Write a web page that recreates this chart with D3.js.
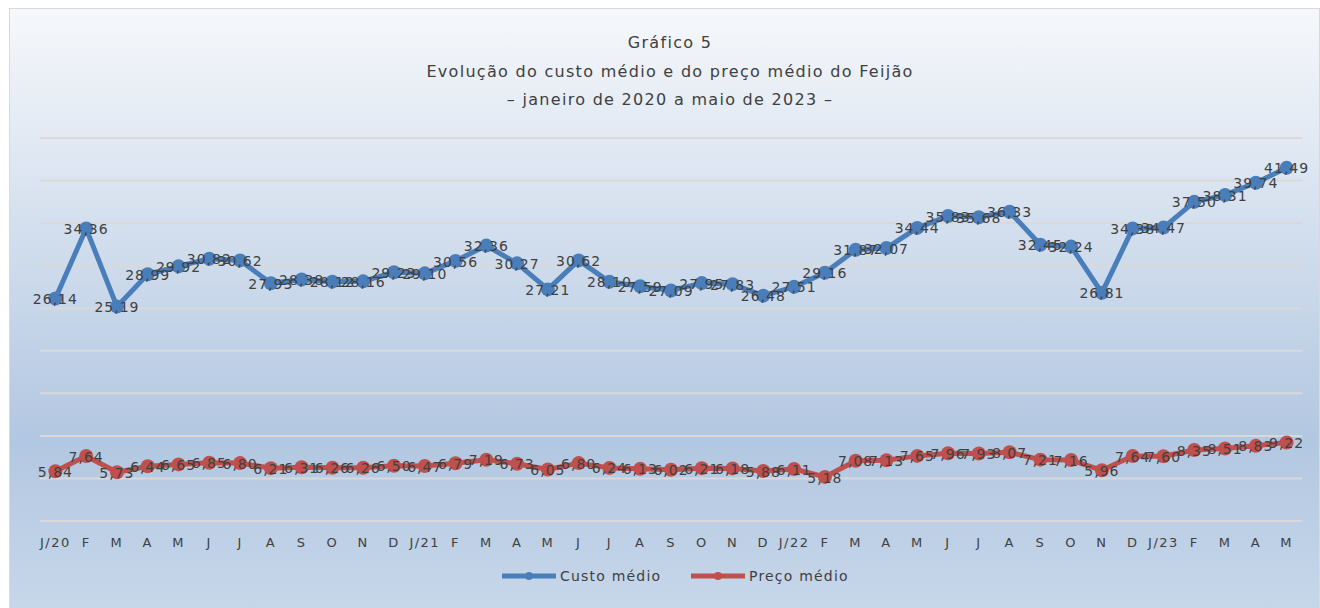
<!DOCTYPE html>
<html>
<head>
<meta charset="utf-8">
<script src="https://cdn.jsdelivr.net/npm/d3@7"></script>
<style>
  body { margin: 0; background: #fff; }
  svg { display: block; font-family: "DejaVu Sans", Verdana, sans-serif; }
</style>
</head>
<body>
<script>
// Month labels, Jan 2020 .. May 2023
const months = ["J/20","F","M","A","M","J","J","A","S","O","N","D",
  "J/21","F","M","A","M","J","J","A","S","O","N","D",
  "J/22","F","M","A","M","J","J","A","S","O","N","D",
  "J/23","F","M","A","M"];

const custoMedio = [26.14, 34.36, 25.19, 28.99, 29.92, 30.82, 30.62, 27.93, 28.38, 28.12, 28.16, 29.23,
  29.10, 30.56, 32.36, 30.27, 27.21, 30.62, 28.10, 27.59, 27.09, 27.95, 27.83, 26.48,
  27.51, 29.16, 31.87, 32.07, 34.44, 35.83, 35.68, 36.33, 32.45, 32.24, 26.81, 34.38,
  34.47, 37.50, 38.31, 39.74, 41.49];

const precoMedio = [5.84, 7.64, 5.73, 6.44, 6.65, 6.85, 6.80, 6.21, 6.31, 6.26, 6.26, 6.50,
  6.47, 6.79, 7.19, 6.73, 6.05, 6.80, 6.24, 6.13, 6.02, 6.21, 6.18, 5.88,
  6.11, 5.18, 7.08, 7.13, 7.65, 7.96, 7.93, 8.07, 7.21, 7.16, 5.96, 7.64,
  7.60, 8.35, 8.51, 8.83, 9.22];

const yTicks = [0, 5, 10, 15, 20, 25, 30, 35, 40, 45];

const series = [
  { name: "Custo  médio", values: custoMedio, color: "#4a7ebb" },
  { name: "Preço médio", values: precoMedio, color: "#c0504d" }
];

const width = 1320;
const height = 608;
const marginLeft = 40;
const marginRight = 18;
const marginTop = 138;
const marginBottom = 87;

const svg = d3.select("body").append("svg")
    .attr("width", width)
    .attr("height", height);

// background gradient like the spreadsheet chart
const defs = svg.append("defs");
const grad = defs.append("linearGradient")
    .attr("id", "bg")
    .attr("x1", 0).attr("y1", 0).attr("x2", 0).attr("y2", 1);
grad.append("stop").attr("offset", "0%").attr("stop-color", "#f6f8fb");
grad.append("stop").attr("offset", "72%").attr("stop-color", "#b2c7e1");
grad.append("stop").attr("offset", "100%").attr("stop-color", "#c7d7ea");

svg.append("rect")
    .attr("x", 9.5).attr("y", 8.5)
    .attr("width", width - 10).attr("height", height - 8)
    .attr("fill", "url(#bg)")
    .attr("stroke", "#d9d9d9");

const x = d3.scaleBand()
    .domain(d3.range(months.length))
    .range([marginLeft, width - marginRight]);

const y = d3.scaleLinear()
    .domain([0, 45])
    .range([height - marginBottom, marginTop]);

const cx = i => x(i) + x.bandwidth() / 2;

// gridlines
svg.append("g")
    .attr("stroke", "#d9d9d9")
    .attr("stroke-width", 2)
  .selectAll("line")
  .data(yTicks)
  .join("line")
    .attr("x1", marginLeft)
    .attr("x2", width - marginRight)
    .attr("y1", d => y(d))
    .attr("y2", d => y(d));

// x axis labels
svg.append("g")
    .attr("transform", `translate(0,${y(0) + 14})`)
    .call(d3.axisBottom(x).tickFormat(i => months[i]).tickSize(0))
    .call(g => g.select(".domain").remove())
    .call(g => g.selectAll("text")
        .attr("fill", "#404040")
        .attr("font-size", 13)
        .attr("letter-spacing", "1.5px")
        .attr("font-family", "DejaVu Sans, sans-serif"));

const line = d3.line()
    .x((d, i) => cx(i))
    .y(d => y(d));

series.forEach(s => {
  svg.append("path")
      .datum(s.values)
      .attr("fill", "none")
      .attr("stroke", s.color)
      .attr("stroke-width", 5)
      .attr("stroke-linejoin", "round")
      .attr("d", line);

  svg.append("g")
      .attr("fill", s.color)
    .selectAll("circle")
    .data(s.values)
    .join("circle")
      .attr("cx", (d, i) => cx(i))
      .attr("cy", d => y(d))
      .attr("r", 7);
});

// data labels, centred on the points
series.forEach(s => {
  svg.append("g")
      .attr("font-size", 14)
      .attr("letter-spacing", "1px")
      .attr("fill", "#404040")
      .attr("text-anchor", "middle")
    .selectAll("text")
    .data(s.values)
    .join("text")
      .attr("x", (d, i) => cx(i))
      .attr("y", d => y(d))
      .attr("dy", "0.4em")
      .text(d => d.toFixed(2).replace(".", ","));
});

// title
const title = ["Gráfico 5",
  "Evolução do custo médio e do preço médio do Feijão",
  "– janeiro de 2020 a maio de 2023 –"];
svg.append("g")
    .attr("font-size", 16)
    .attr("letter-spacing", "1.3px")
    .attr("fill", "#404040")
    .attr("text-anchor", "middle")
  .selectAll("text")
  .data(title)
  .join("text")
    .attr("x", 670)
    .attr("y", (d, i) => 48 + i * 28.5)
    .text(d => d);

// legend
const legend = svg.append("g")
    .attr("font-size", 14)
    .attr("letter-spacing", "1.2px")
    .attr("fill", "#404040");
const legendX = [502, 691];
series.forEach((s, i) => {
  const g = legend.append("g").attr("transform", `translate(${legendX[i]},576)`);
  g.append("line")
      .attr("x1", 0).attr("x2", 54)
      .attr("stroke", s.color).attr("stroke-width", 5);
  g.append("circle").attr("cx", 27).attr("r", 4).attr("fill", s.color);
  g.append("text").attr("x", 58).attr("dy", "0.35em").text(s.name);
});
</script>
</body>
</html>
